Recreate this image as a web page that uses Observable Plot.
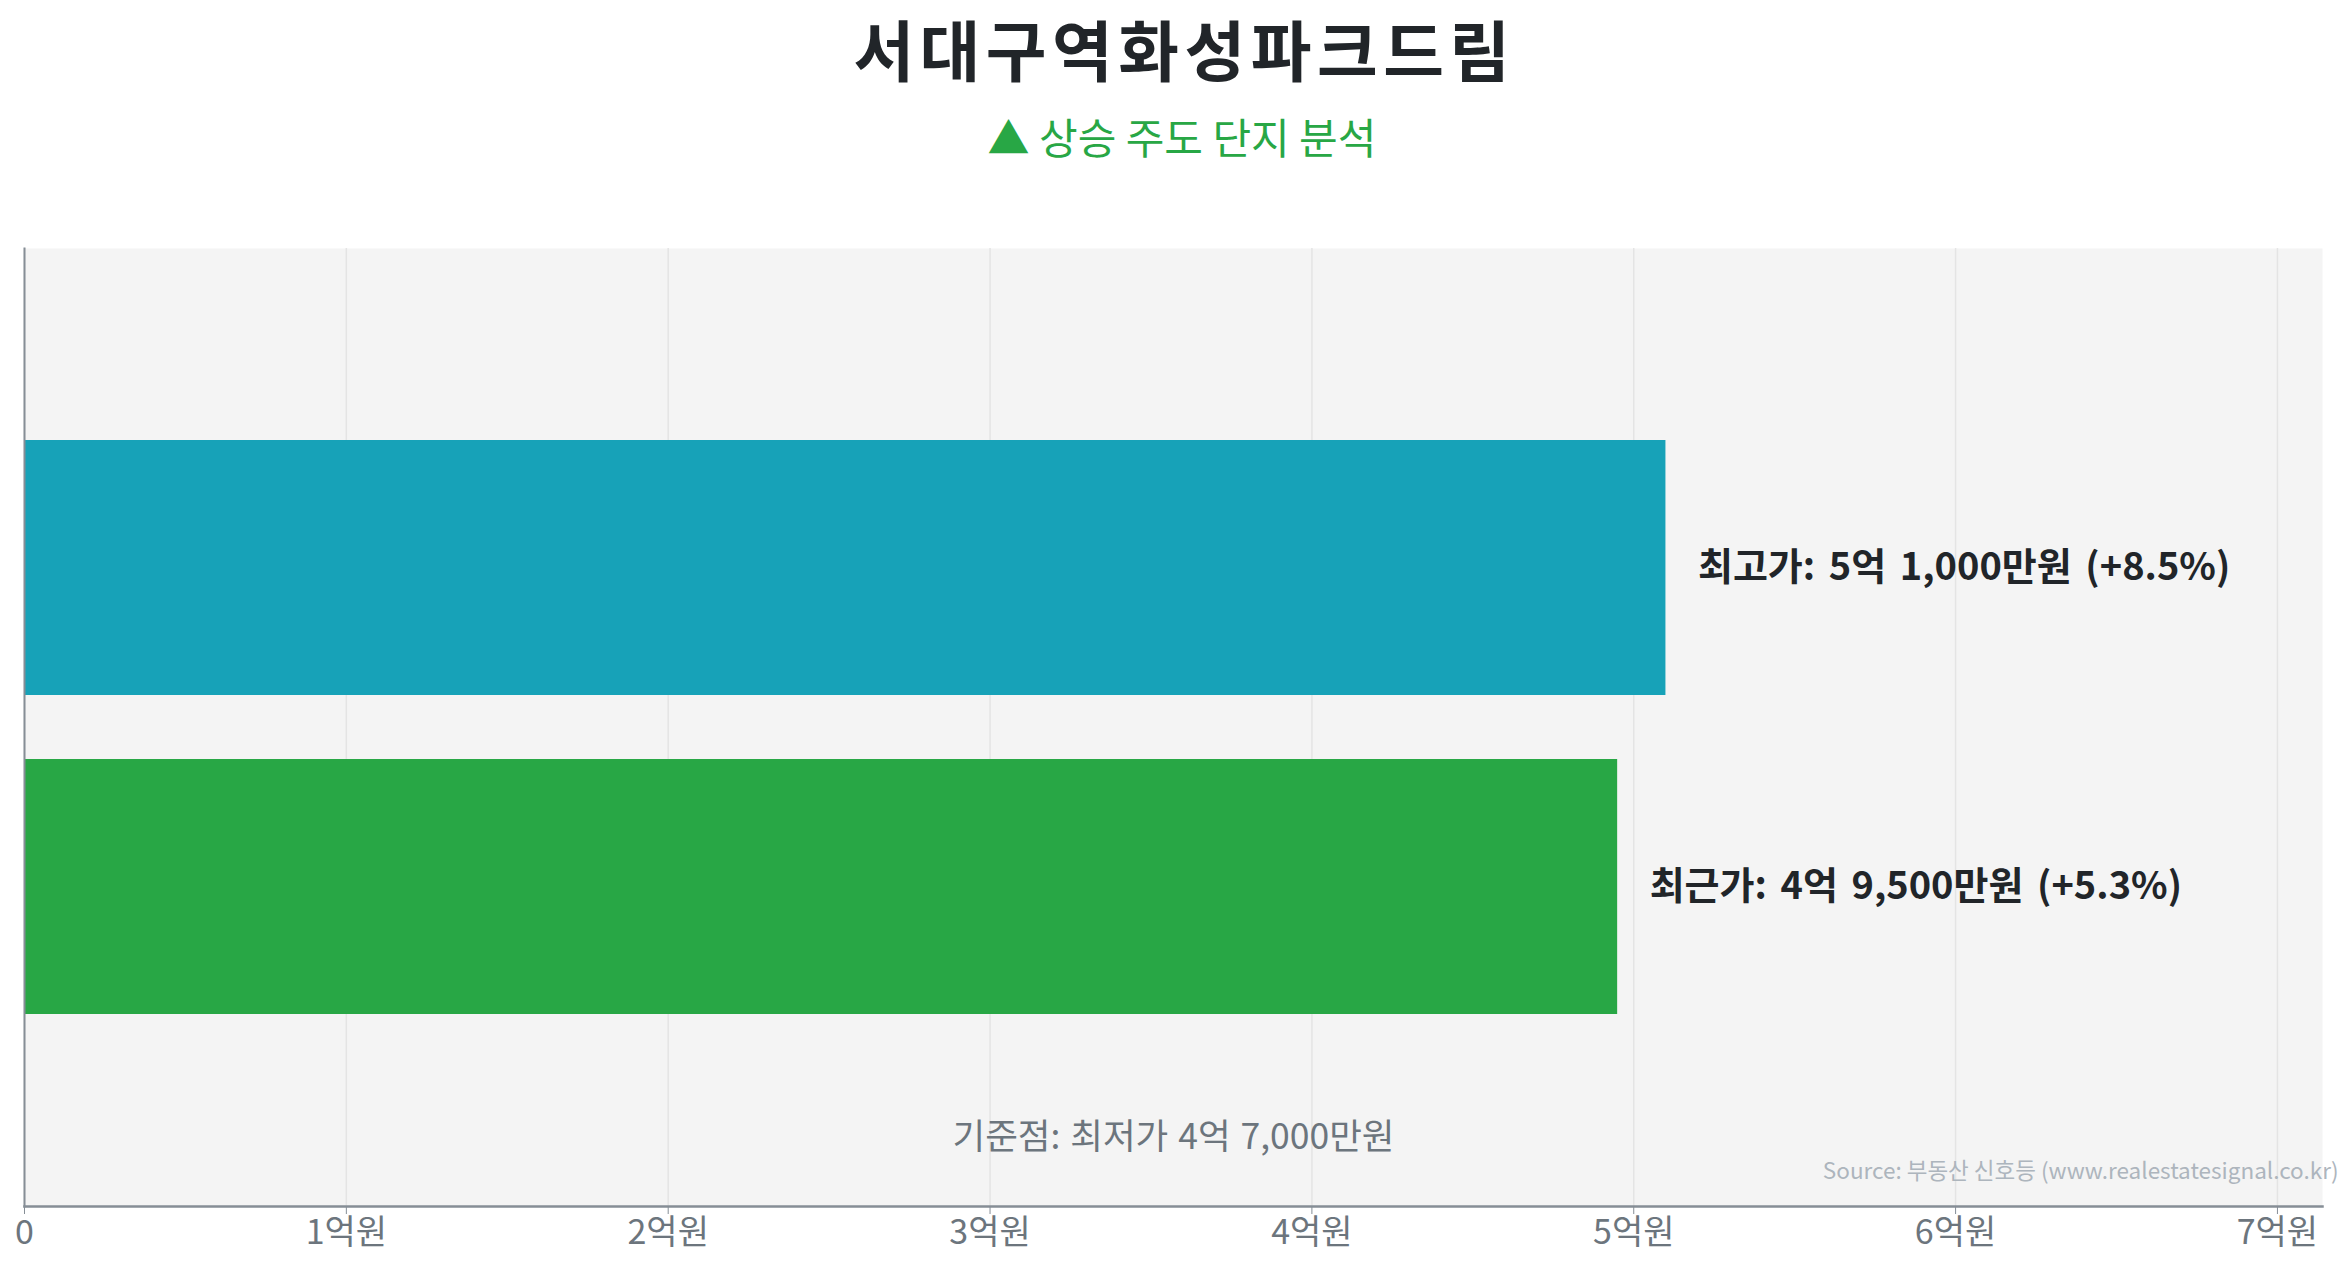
<!DOCTYPE html>
<html>
<head>
<meta charset="utf-8">
<script src="https://cdn.jsdelivr.net/npm/d3@7"></script>
<script src="https://cdn.jsdelivr.net/npm/@observablehq/plot@0.6"></script>
<style>
  html, body { margin: 0; padding: 0; background: #ffffff; }
  body { width: 2345px; height: 1268px; overflow: hidden; font-family: "Noto Sans CJK KR", "Noto Sans", sans-serif; }
  #header { position: relative; height: 220px; width: 2345px; }
  #title { position: absolute; left: 0; width: 2364px; top: 0px; text-align: center; font-size: 66px; letter-spacing: 5.5px; padding-left: 5px; box-sizing: border-box; font-weight: 700; color: #212529; line-height: 1.45; }
  #subtitle { position: absolute; left: 0; width: 2364px; top: 106px; text-align: center; font-size: 42px; color: #28a745; line-height: 1.45; }
  #chart svg { display: block; }
  #chart .barlabel text, #chart text.barlabel { word-spacing: 5px; }
  #chart .baselabel text, #chart text.baselabel { word-spacing: 2px; }
</style>
</head>
<body>
<div id="header">
  <div id="title"></div>
  <div id="subtitle"></div>
</div>
<div id="chart"></div>
<script>
// ---- data ----
const titleText = "서대구역화성파크드림";
const subtitleText = "▲ 상승 주도 단지 분석";
const categories = ["최고가", "최근가"];
const pricesMan = [51000, 49500];          // 만원
const basePriceMan = 47000;                // 최저가 (만원)
const barColors = ["#17a2b8", "#28a745"];
const tickValues = [0, 1, 2, 3, 4, 5, 6, 7];   // 억원
const baseLabel = "기준점: 최저가 4억 7,000만원";
const sourceText = "Source: 부동산 신호등 (www.realestatesignal.co.kr)";

document.getElementById("title").textContent = titleText;
document.getElementById("subtitle").textContent = subtitleText;

const fmtMan = v => {
  const eok = Math.floor(v / 10000);
  const man = v % 10000;
  return man ? `${eok}억 ${d3.format(",")(man)}만원` : `${eok}억원`;
};

const rows = categories.map((c, i) => ({
  cat: c,
  value: pricesMan[i] / 10000,
  color: barColors[i],
  label: `${c}: ${fmtMan(pricesMan[i])} (+${((pricesMan[i] / basePriceMan - 1) * 100).toFixed(1)}%)`
}));

const xMax = d3.max(rows, d => d.value) * 1.4;
const font = '"Noto Sans CJK KR", "Noto Sans", sans-serif';

const chart = Plot.plot({
  width: 2345,
  height: 1048,
  marginLeft: 24,
  marginRight: 23,
  marginTop: 28,
  marginBottom: 62,
  style: { fontFamily: font, background: "transparent", overflow: "visible" },
  x: { domain: [0, xMax], ticks: tickValues },
  y: { domain: categories, paddingInner: 0.2, paddingOuter: 0.6, axis: null },
  marks: [
    Plot.frame({ fill: "#f4f4f4", stroke: null }),
    Plot.gridX(tickValues, { stroke: "#e4e4e4", strokeOpacity: 1, strokeWidth: 1.5 }),
    Plot.barX(rows, { x: "value", y: "cat", fill: "color" }),
    Plot.text(rows, {
      x: "value", y: "cat", text: "label", textAnchor: "start", dx: 32,
      fontSize: 38, fontWeight: 700, fill: "#212529", className: "barlabel"
    }),
    Plot.text([baseLabel], {
      frameAnchor: "bottom", dy: -58, text: d => d,
      fontSize: 35.5, fill: "#6c757d", className: "baselabel"
    }),
    Plot.text([sourceText], {
      frameAnchor: "bottom-right", dx: 16, dy: -28, text: d => d, textAnchor: "end",
      fontSize: 22.5, fill: "#adb5bd"
    }),
    Plot.frame({ anchor: "left", stroke: "#868e96", strokeWidth: 2 }),
    Plot.frame({ anchor: "bottom", stroke: "#868e96", strokeWidth: 2.5 }),
    Plot.axisX(tickValues, {
      tickSize: 8, tickPadding: 5, stroke: "#868e96",
      tickFormat: d => d === 0 ? "0" : `${d}억원`,
      fontSize: 34, fill: "#6c757d", label: null
    })
  ]
});
document.getElementById("chart").appendChild(chart);
</script>
</body>
</html>
